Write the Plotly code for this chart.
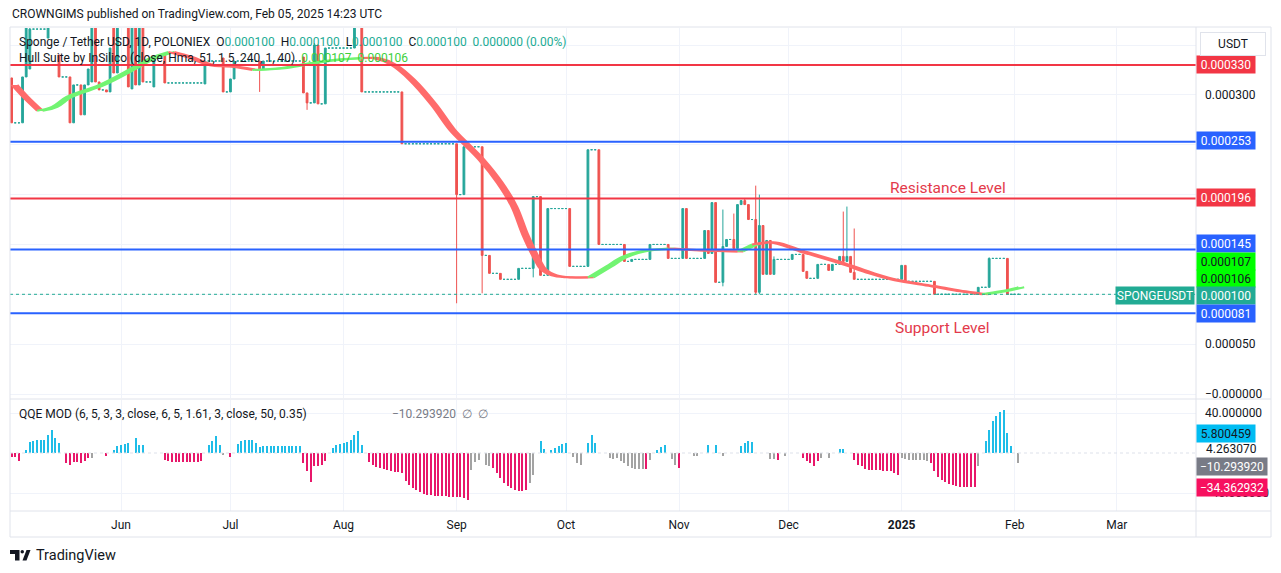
import plotly.graph_objects as go
import pandas as pd

# ---------------- data (prices in micro-USDT, i.e. x 1e-6) ----------------
START = "2024-05-02"
N_DAYS = 277  # daily bars, May 2 2024 .. Feb 2 2025

# bars with trades: (day index, open, high, low, close); other days are flat at previous close
CANDLES = [
    (0, 317, 317, 272, 272), (3, 272, 318, 272, 318), (4, 318, 380, 318, 372),
    (5, 326, 380, 326, 366), (10, 357, 380, 357, 375), (13, 340, 340, 318, 318),
    (16, 318, 318, 272, 272), (17, 272, 310, 272, 310), (19, 310, 310, 280, 280),
    (20, 280, 310, 280, 310), (21, 310, 326, 310, 326), (22, 313, 380, 313, 372),
    (23, 372, 375, 313, 313), (24, 313, 313, 305, 305), (26, 305, 305, 303, 303),
    (27, 303, 347, 303, 347), (28, 375, 380, 322, 322), (29, 322, 380, 322, 370),
    (32, 370, 375, 308, 308), (33, 306, 380, 306, 372), (34, 372, 375, 310, 310),
    (35, 310, 368, 310, 368), (36, 368, 368, 313, 313), (39, 308, 337, 308, 337),
    (42, 340, 340, 312, 312), (53, 311, 334, 311, 334), (58, 337, 337, 303, 303),
    (60, 303, 316, 303, 316), (61, 316, 334, 316, 334), (68, 334, 334, 303, 326),
    (69, 326, 334, 326, 334), (80, 338, 338, 302, 302), (81, 302, 302, 285, 292),
    (83, 292, 352, 292, 350), (84, 350, 350, 291, 291), (86, 291, 347, 291, 347),
    (94, 347, 380, 347, 372), (96, 372, 372, 303, 303), (107, 303, 303, 251, 251),
    (122, 251, 251, 91, 200), (124, 200, 248, 200, 248), (129, 248, 248, 101, 139),
    (131, 139, 139, 121, 121), (134, 121, 121, 115, 115), (139, 115, 126, 115, 126),
    (143, 126, 198, 117, 198), (145, 198, 198, 119, 119), (147, 119, 186, 119, 186),
    (153, 186, 186, 128, 128), (158, 128, 245, 128, 245), (161, 245, 245, 150, 150),
    (168, 150, 150, 133, 133), (170, 133, 135, 133, 135), (175, 135, 150, 135, 150),
    (180, 150, 150, 136, 136), (184, 136, 186, 136, 186), (185, 186, 186, 136, 136),
    (190, 136, 164, 136, 164), (191, 164, 164, 141, 141), (192, 141, 192, 141, 192),
    (193, 192, 192, 112, 112), (195, 112, 185, 108, 148), (196, 148, 155, 148, 155),
    (198, 155, 181, 144, 146), (199, 146, 190, 146, 190), (200, 190, 194, 190, 194),
    (201, 194, 196, 190, 190), (202, 190, 190, 175, 175), (204, 175, 209, 100, 102),
    (205, 102, 200, 100, 169), (206, 169, 169, 120, 120), (207, 120, 154, 120, 154),
    (208, 154, 154, 120, 120), (209, 120, 138, 120, 135), (214, 135, 140, 135, 140),
    (217, 140, 140, 123, 123), (218, 123, 123, 116, 116), (221, 116, 130, 116, 130),
    (224, 130, 130, 124, 124), (225, 124, 130, 124, 130), (227, 130, 138, 130, 138),
    (228, 138, 183, 133, 133), (229, 133, 188, 133, 138), (230, 138, 138, 122, 122),
    (231, 122, 166, 115, 115), (244, 115, 129, 115, 129), (245, 129, 129, 113, 113),
    (253, 113, 113, 100, 100), (265, 100, 107, 100, 107), (268, 107, 137, 107, 136),
    (273, 136, 136, 100, 100),
]

# Hull Suite line: (color, [(day index, value)])
HULL_SEGMENTS = [
    ("r", [(0, 310), (3, 298), (7, 284)]),
    ("g", [(7, 284), (11, 288), (15, 298), (24, 310), (33, 327), (38, 337), (43, 343)]),
    ("r", [(43, 343), (48, 338), (54, 330), (61, 328), (66, 325)]),
    ("g", [(66, 325), (74, 327), (82, 332), (88, 335), (96, 337)]),
    ("r", [(96, 337), (99, 337), (104, 330), (109, 315), (115, 290), (120, 265), (124, 250),
           (128, 235), (133, 212), (137, 188), (140, 160), (143, 137), (145, 125), (148, 119),
           (152, 117), (158, 117)]),
    ("g", [(158, 117), (163, 128), (167, 137), (172, 143), (180, 146)]),
    ("r", [(180, 146), (189, 144), (199, 143)]),
    ("g", [(199, 143), (203, 150)]),
    ("r", [(203, 150), (208, 152), (216, 143), (227, 131), (235, 121), (242, 114), (252, 108),
           (260, 103), (266, 100)]),
    ("g", [(266, 100), (271, 103), (276, 107)]),
]

# QQE MOD histogram: (first day index, colour code, values)
QQE_SEGMENTS = [
    (0, "m", [-4, -4, -8]),
    (4, "c", [3, 11, 12, 13, 13, 13, 18, 23, 15, 10]),
    (15, "m", [-10, -12, -9, -9, -10, -8, -5]),
    (22, "g", [-5]),
    (26, "m", [-3]),
    (28, "c", [3, 7, 8, 9, 10]),
    (34, "c", [15, 8, 8]),
    (42, "m", [-7, -8, -9, -9, -9, -9, -9, -9, -9, -9, -8]),
    (54, "c", [8, 12, 17, 8]),
    (58, "g", [-2]),
    (60, "m", [-4]),
    (62, "c", [9, 12, 13, 13, 13, 10]),
    (68, "c", [6, 7, 7, 7, 7, 7, 7, 7, 7, 7, 7, 7]),
    (80, "m", [-10, -18, -29, -13, -13, -12, -8]),
    (88, "c", [5, 8, 9, 10, 11, 13, 18, 22, 8]),
    (98, "m", [-9, -12, -14, -15, -16, -17, -18, -19, -19, -20, -28, -32, -35, -37, -39, -41,
               -42, -42, -43, -43, -43, -43, -44, -44, -44, -44, -45, -47]),
    (126, "g", [-17, -9, -7]),
    (130, "g", [-12, -13]),
    (132, "m", [-15, -20, -25, -30, -33, -35, -37, -38, -38, -37]),
    (142, "g", [-30, -22]),
    (145, "c", [12, 4]),
    (148, "c", [3, 5, 7, 9, 10]),
    (154, "g", [-4, -10, -12]),
    (158, "c", [10, 18, 10]),
    (164, "g", [-5, -6, -5, -8, -10, -13, -15, -16, -16, -16]),
    (174, "m", [-16]),
    (175, "g", [-7]),
    (177, "c", [3, 6, 8]),
    (181, "g", [-6, -12]),
    (183, "m", [-15]),
    (187, "g", [-3, -3]),
    (191, "c", [8]),
    (193, "c", [8]),
    (195, "g", [-3]),
    (200, "c", [7, 10, 12, 11]),
    (208, "g", [-6, -6]),
    (210, "m", [-7]),
    (212, "g", [-3]),
    (217, "m", [-5, -8, -10, -13, -8]),
    (222, "g", [-5]),
    (224, "g", [-5]),
    (227, "c", [4, 4]),
    (231, "m", [-7, -12, -13, -16, -17, -17, -17, -17, -18, -18, -18, -20, -22]),
    (244, "g", [-5, -6, -7, -7, -7, -7, -7, -8]),
    (252, "m", [-10, -18, -24, -27, -29, -31, -32, -33, -34, -34, -34, -34, -34]),
    (265, "g", [-13]),
    (267, "c", [12, 23, 32, 37, 41, 43, 20, 7]),
    (276, "g", [-10]),
]

# horizontal levels (micro-USDT) and their colours
LEVELS = [330, 253, 196, 145, 81]
LEVEL_COLORS = ["#f23645", "#2962ff", "#f23645", "#2962ff", "#2962ff"]
LAST_PRICE = 100

MONTH_TICKS = ["2024-06-01", "2024-07-01", "2024-08-01", "2024-09-01", "2024-10-01",
               "2024-11-01", "2024-12-01", "2025-01-01", "2025-02-01", "2025-03-01"]
MONTH_LABELS = ["Jun", "Jul", "Aug", "Sep", "Oct", "Nov", "Dec", "<b>2025</b>", "Feb", "Mar"]

PRICE_TICKS = [0, 50, 100, 150, 200, 250, 300, 350]
PRICE_TICK_TEXT = ["\u22120.000000", "0.000050", "", "", "0.000200", "", "0.000300", ""]

# right-hand value tags: (text, pixel y, background, font colour, width)
PRICE_TAGS = [
    ("0.000330", 64, "#f23645", "white", 58),
    ("0.000253", 140, "#2962ff", "white", 58),
    ("0.000196", 198, "#f23645", "white", 58),
    ("0.000145", 244, "#2962ff", "white", 58),
    ("0.000107", 261, "#00ff00", "#131722", 58),
    ("0.000106", 278, "#00ff00", "#131722", 58),
    ("0.000100", 295, "#22ab94", "white", 58),
    ("0.000081", 314, "#2962ff", "white", 58),
]
QQE_TAGS = [
    ("5.800459", 433, "#00bcf2", "#131722", 58),
    ("\u221210.293920", 466, "#787b86", "white", 70),
    ("\u221234.362932", 487, "#f7105f", "white", 70),
]

# ---------------- build ----------------
t0 = pd.Timestamp(START)
days = [t0 + pd.Timedelta(days=i) for i in range(N_DAYS)]
U = 1e-6

by_day = {c[0]: c[1:] for c in CANDLES}
ax, ao, ah, al, ac = [], [], [], [], []
fx, fv = [], []
prev = by_day[0][3]
for i in range(N_DAYS):
    if i in by_day:
        o, h, l, c = by_day[i]
        ax.append(days[i]); ao.append(o * U); ah.append(h * U); al.append(l * U); ac.append(c * U)
        prev = c
    else:
        fx.append(days[i]); fv.append(prev * U)

UP, DOWN = "#26a69a", "#ef5350"
fig = go.Figure()

fig.add_trace(go.Candlestick(
    x=fx, open=fv, high=fv, low=fv, close=fv, xaxis="x", yaxis="y",
    increasing=dict(line=dict(color=UP, width=1), fillcolor=UP),
    decreasing=dict(line=dict(color=UP, width=1), fillcolor=UP),
    hoverinfo="skip", showlegend=False))
fig.add_trace(go.Candlestick(
    x=ax, open=ao, high=ah, low=al, close=ac, xaxis="x", yaxis="y",
    increasing=dict(line=dict(color=UP, width=1), fillcolor=UP),
    decreasing=dict(line=dict(color=DOWN, width=1), fillcolor=DOWN),
    hoverinfo="skip", showlegend=False))

HULL_COL = {"r": "#ff6b6b", "g": "#72f472"}
for col, pts in HULL_SEGMENTS:
    c = HULL_COL[col]
    xa = [t0 + pd.Timedelta(days=i) for i, _ in pts]
    xb = [t0 + pd.Timedelta(days=i + 1.6) for i, _ in pts]
    yv = [v * U for _, v in pts]
    fig.add_trace(go.Scatter(x=xa, y=yv, mode="lines", yaxis="y",
                             line=dict(color=c, width=2, shape="spline"),
                             hoverinfo="skip", showlegend=False))
    fig.add_trace(go.Scatter(x=xb, y=yv, mode="lines", yaxis="y",
                             line=dict(color=c, width=2, shape="spline"),
                             fill="tonexty", fillcolor=c,
                             hoverinfo="skip", showlegend=False))

QQE_COL = {"c": "#1fbde8", "m": "#e8176a", "g": "#a3a3a3"}
qx, qy, qc = [], [], []
for start, code, vals in QQE_SEGMENTS:
    for k, v in enumerate(vals):
        qx.append(days[start + k]); qy.append(v); qc.append(QQE_COL[code])
fig.add_trace(go.Bar(x=qx, y=qy, marker=dict(color=qc, line=dict(width=0)),
                     width=0.55 * 86400000, yaxis="y2", hoverinfo="skip", showlegend=False))

# ---------------- layout ----------------
L, R, T, B = 10, 1196, 28, 511
def xp(px): return (px - L) / (R - L)
def yp(py): return (B - py) / (B - T)

FONT = "Roboto, 'Noto Sans', sans-serif"
TXT = "#131722"
BORDER = "#e0e3eb"
GRID = "#f0f3fa"

shapes = []
for lv, col in zip(LEVELS, LEVEL_COLORS):
    shapes.append(dict(type="line", xref="paper", yref="y", x0=0, x1=1, y0=lv * U, y1=lv * U,
                       line=dict(color=col, width=2)))
shapes.append(dict(type="line", xref="paper", yref="y", x0=0, x1=1, y0=LAST_PRICE * U,
                   y1=LAST_PRICE * U, line=dict(color="#22ab94", width=1, dash="dot")))
shapes.append(dict(type="line", xref="paper", yref="y2", x0=0, x1=1, y0=0, y1=0,
                   line=dict(color="#dde1ea", width=1, dash="dot")))
# frame
for (x0, y0, x1, y1) in [(10, 27, 1271, 27), (10, 537, 1271, 537), (10, 27, 10, 537),
                         (1271, 27, 1271, 537), (1196, 27, 1196, 537), (10, 399, 1271, 399),
                         (10, 511, 1271, 511)]:
    shapes.append(dict(type="line", xref="paper", yref="paper", x0=xp(x0), x1=xp(x1),
                       y0=yp(y0), y1=yp(y1), line=dict(color=BORDER, width=1)))
# TradingView logo
shapes.append(dict(type="path", xref="paper", yref="paper", fillcolor=TXT, line=dict(width=0),
                   path="M {} {} L {} {} L {} {} L {} {} L {} {} L {} {} Z".format(
                       xp(10), yp(550), xp(19.5), yp(550), xp(19.5), yp(560.5), xp(15), yp(560.5),
                       xp(15), yp(554), xp(10), yp(554))))
shapes.append(dict(type="circle", xref="paper", yref="paper", fillcolor=TXT, line=dict(width=0),
                   x0=xp(20.5), x1=xp(24), y0=yp(550), y1=yp(553.5)))
shapes.append(dict(type="path", xref="paper", yref="paper", fillcolor=TXT, line=dict(width=0),
                   path="M {} {} L {} {} L {} {} L {} {} Z".format(
                       xp(22.5), yp(560.5), xp(26.5), yp(550), xp(30.5), yp(550), xp(26.5), yp(560.5))))

ann = []
def add_text(text, px, py, size=12, color=TXT, xanchor="left", **kw):
    ann.append(dict(text=text, x=xp(px), y=yp(py), xref="paper", yref="paper", showarrow=False,
                    xanchor=xanchor, yanchor="middle", font=dict(family=FONT, size=size, color=color), **kw))

add_text("CROWNGIMS published on TradingView.com, Feb 05, 2025 14:23 UTC", 10, 14, 12)
V = "#22ab94"
add_text("Sponge / Tether USD, 1D, POLONIEX  O<span style='color:%s'>0.000100</span>  "
         "H<span style='color:%s'>0.000100</span>  L<span style='color:%s'>0.000100</span>  "
         "C<span style='color:%s'>0.000100</span>  <span style='color:%s'>0.000000 (0.00%%)</span>"
         % (V, V, V, V, V), 17, 42, 12)
add_text("Hull Suite by InSilico (close, Hma, 51, 1.5, 240, 1, 40)  "
         "<span style='color:#3ccf3c'>0.000107  0.000106</span>", 17, 58, 12)
add_text("QQE MOD (6, 5, 3, 3, close, 6, 5, 1.61, 3, close, 50, 0.35)", 17, 414, 12)
add_text("\u221210.293920  \u2205  \u2205", 390, 414, 12, color="#787b86")
add_text("Resistance Level", 948, 188, 15.5, color="#e33a4b", xanchor="center")
add_text("Support Level", 942, 328, 15.5, color="#e33a4b", xanchor="center")
add_text("TradingView", 34, 555, 14.5, color=TXT)
add_text("4.263070", 1204, 449, 12)

for text, py, bg, fc, w in PRICE_TAGS + QQE_TAGS:
    add_text(text, 1196, py, 12, color=fc, bgcolor=bg, borderpad=0, width=w, height=17, align="center")
add_text("SPONGEUSDT", 1195, 295, 12, color="white", xanchor="right", bgcolor="#22ab94",
         borderpad=0, width=78, height=17, align="center")
add_text("USDT", 1200, 44, 12, color=TXT, bgcolor="white", bordercolor=BORDER, borderwidth=1,
         borderpad=0, width=64, height=22, align="center")

x_start = t0 - pd.Timedelta(hours=10.5)
x_end = t0 + pd.Timedelta(days=324.7)

fig.update_layout(
    width=1281, height=573,
    margin=dict(l=L, r=1281 - R, t=T, b=573 - B),
    paper_bgcolor="white", plot_bgcolor="white",
    font=dict(family=FONT, size=12, color=TXT),
    showlegend=False, bargap=0,
    xaxis=dict(type="date", range=[x_start, x_end], anchor="y2",
               tickvals=MONTH_TICKS, ticktext=MONTH_LABELS, showgrid=True, gridcolor=GRID,
               ticks="", showline=False, zeroline=False, rangeslider=dict(visible=False),
               ticklabelstandoff=5, tickfont=dict(size=12, color=TXT), fixedrange=True),
    yaxis=dict(domain=[yp(398), 1], range=[-4.0 * U, 367.1 * U], side="right", anchor="x",
               tickvals=[v * U for v in PRICE_TICKS], ticktext=PRICE_TICK_TEXT,
               showgrid=True, gridcolor=GRID, zeroline=False, showline=False, ticks="",
               ticklabelstandoff=8, tickfont=dict(size=12, color=TXT)),
    yaxis2=dict(domain=[0, yp(400)], range=[-58, 53], side="right", anchor="x",
                tickvals=[40, -40], ticktext=["40.000000", "\u221240.000000"],
                showgrid=True, gridcolor=GRID, zeroline=False, showline=False, ticks="",
                ticklabelstandoff=8, tickfont=dict(size=12, color=TXT)),
    shapes=shapes, annotations=ann,
)

fig.write_html("out.html", config={"displayModeBar": False},
               post_script="document.body.style.margin='0';document.body.style.padding='0';")
